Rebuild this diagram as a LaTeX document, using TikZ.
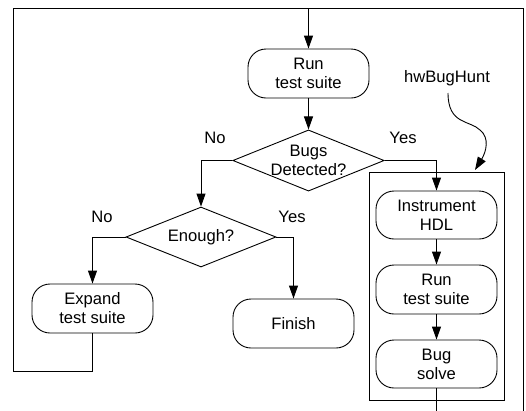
\documentclass[tikz,border=0pt]{standalone}
\usepackage{fontspec}
\setmainfont{Liberation Sans}
\usetikzlibrary{arrows.meta,shapes.geometric}
\begin{document}
\begin{tikzpicture}[x=1pt, y=-1pt, line width=0.9pt,
    font=\fontsize{16.6}{19}\selectfont,
    proc/.style={draw, rectangle, rounded corners=18pt, align=center,
      minimum width=121pt, minimum height=49pt, inner sep=0pt},
    decision/.style={draw, diamond, align=center, inner sep=0pt,
      shape aspect=2.475, minimum width=151pt, minimum height=61pt},
    flow/.style={-{Triangle[length=13pt, width=9pt]}}]
    \useasboundingbox (0, 0) rectangle (526, 410);
    \clip (0, 0) rectangle (526, 410);

    \node[proc] (run1) at (308.5, 73.5) {Run\\test suite};
    \node[decision] (bugs) at (308.5, 160.5) {Bugs\\Detected?};
    \node[decision, minimum width=150pt, minimum height=60pt] (enough) at (201, 237) {Enough?};
    \node[proc] (expand) at (92.5, 308.5) {Expand\\test suite};
    \node[proc] (finish) at (293.5, 323.5) {Finish};

    \node[draw, minimum width=135pt, minimum height=228pt, inner sep=0pt] (hunt) at (436.5, 286) {};
    \node[proc, minimum height=48pt] (instr) at (436.5, 215) {Instrument\\HDL};
    \node[proc] (run2) at (436.5, 289.5) {Run\\test suite};
    \node[proc, minimum height=48pt] (solve) at (436.5, 364) {Bug\\solve};
    \node (huntlabel) at (447, 78) {hwBugHunt};

    \node (bugsno) at (215, 138) {No};
    \node (bugsyes) at (403, 138) {Yes};
    \node (enoughno) at (102, 217) {No};
    \node (enoughyes) at (292, 217) {Yes};

    \coordinate (lb) at (13, 371);
    \coordinate (lt) at (13, 8);
    \coordinate (rt) at (523, 8);
    \coordinate (rb) at (523, 420);
    \coordinate (huntcorner) at (475, 170);

    \draw[flow] (expand.south) |- (lb) -- (lt) -| (run1.north);
    \draw (solve.south) |- (rb) -- (rt) -- (lt);
    \draw[flow] (run1.south) -- (bugs.north);
    \draw[flow] (bugs.west) -| (enough.north);
    \draw[flow] (bugs.east) -| (instr.north);
    \draw[flow] (enough.west) -| (expand.north);
    \draw[flow] (enough.east) -| (finish.north);
    \draw[flow] (instr.south) -- (run2.north);
    \draw[flow] (run2.south) -- (solve.north);

    \draw[flow] (448, 93) .. controls (448, 125) and (470, 120) .. (480, 130)
        .. controls (490, 138) and (486, 152) .. (huntcorner);
\end{tikzpicture}
\end{document}
